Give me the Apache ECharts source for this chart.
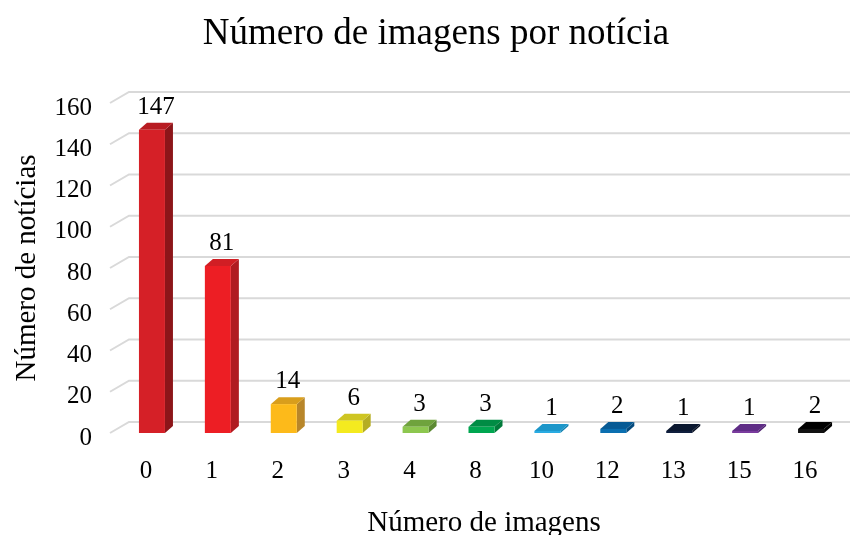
<!DOCTYPE html>
<html lang="pt">
<head>
    <meta charset="UTF-8">
    <title>Número de imagens por notícia</title>
    <script src="https://cdn.jsdelivr.net/npm/echarts@6/dist/echarts.min.js"></script>
    <style>
        html, body { margin: 0; padding: 0; background: #fff; }
        #main { width: 850px; height: 535px; }
    </style>
</head>
<body>
<div id="main"></div>
<script>
    // categorias (número de imagens) e contagens de notícias
    var categories = ['0', '1', '2', '3', '4', '8', '10', '12', '13', '15', '16'];
    var counts = [147, 81, 14, 6, 3, 3, 1, 2, 1, 1, 2];
    var yTicks = [0, 20, 40, 60, 80, 100, 120, 140, 160];

    // cores das faces: frente, lado, topo
    var frontColors = ['#D52027', '#ED1E24', '#FDBA1A', '#F4EA1F', '#8DC74F', '#00A650', '#29ABE2', '#0B6FB0', '#0F1E3D', '#7A3C9E', '#111111'];
    var sideColors  = ['#8C1519', '#B01B21', '#B8862A', '#B5AD23', '#5C8A32', '#007A3A', '#0E7FB0', '#054A7C', '#060E20', '#4E2070', '#000000'];
    var topColors   = ['#B81C22', '#D11E24', '#D99E1C', '#CEC522', '#6FA33D', '#008C44', '#1C96C9', '#075A94', '#0B1830', '#5F2D86', '#000000'];

    var FONT = '"Liberation Serif", "Times New Roman", serif';
    var DEPTH_X = 8, DEPTH_Y = 7, HALF_W = 13;
    var WALL_X = 19, WALL_Y = 11;

    var chart = echarts.init(document.getElementById('main'));

    var option = {
        animation: false,
        title: {
            text: 'Número de imagens por notícia',
            left: 431,
            top: 11,
            textAlign: 'center',
            textStyle: { fontFamily: FONT, fontSize: 37, fontWeight: 'normal', color: '#000' }
        },
        grid: { left: 113, right: 12, top: 103, bottom: 102, outerBoundsMode: 'none' },
        xAxis: {
            type: 'category',
            data: categories,
            name: 'Número de imagens',
            nameLocation: 'middle',
            nameGap: 76,
            nameTextStyle: { fontFamily: FONT, fontSize: 29, color: '#000', padding: [0, 0, 0, 17] },
            axisLine: { show: false },
            axisTick: { show: false },
            axisLabel: { fontFamily: FONT, fontSize: 25, color: '#000', margin: 26 }
        },
        yAxis: {
            type: 'value',
            min: 0,
            max: 160,
            interval: 20,
            name: 'Número de notícias',
            nameLocation: 'middle',
            nameGap: 71,
            nameTextStyle: { fontFamily: FONT, fontSize: 29, color: '#000' },
            axisLine: { show: false },
            axisTick: { show: false },
            splitLine: { show: false },
            axisLabel: {
                margin: 21,
                formatter: '{t|{value}}',
                rich: { t: { fontFamily: FONT, fontSize: 25, color: '#000', padding: [10, 0, 0, 0] } }
            }
        },
        series: [
            {
                // linhas de grade na parede do fundo
                type: 'custom',
                data: yTicks.map(function (v) { return [0, v]; }),
                clip: false,
                z: 1,
                silent: true,
                renderItem: function (params, api) {
                    var p = api.coord([0, api.value(1)]);
                    var rect = params.coordSys;
                    var x0 = rect.x - 3;
                    return {
                        type: 'polyline',
                        shape: {
                            points: [
                                [x0, p[1]],
                                [x0 + WALL_X, p[1] - WALL_Y],
                                [850, p[1] - WALL_Y]
                            ]
                        },
                        style: { stroke: '#D9D9D9', lineWidth: 2, fill: null }
                    };
                }
            },
            {
                // barras 3D
                type: 'custom',
                data: counts.map(function (v, i) { return [i, v]; }),
                clip: false,
                z: 2,
                renderItem: function (params, api) {
                    var i = api.value(0);
                    var v = api.value(1);
                    var top = api.coord([i, v]);
                    var base = api.coord([i, 0]);
                    var cx = top[0] + 6;
                    var l = cx - HALF_W, r = cx + HALF_W;
                    var yt = top[1], yb = base[1];
                    return {
                        type: 'group',
                        children: [
                            {
                                type: 'polygon',
                                shape: { points: [[r, yt], [r + DEPTH_X, yt - DEPTH_Y], [r + DEPTH_X, yb - DEPTH_Y], [r, yb]] },
                                style: { fill: sideColors[i] }
                            },
                            {
                                type: 'polygon',
                                shape: { points: [[l, yt], [l + DEPTH_X, yt - DEPTH_Y], [r + DEPTH_X, yt - DEPTH_Y], [r, yt]] },
                                style: { fill: topColors[i] }
                            },
                            {
                                type: 'rect',
                                shape: { x: l, y: yt, width: HALF_W * 2, height: yb - yt },
                                style: { fill: frontColors[i] }
                            },
                            {
                                type: 'text',
                                style: {
                                    text: String(v),
                                    x: cx + DEPTH_X / 2,
                                    y: yt - DEPTH_Y - 3,
                                    align: 'center',
                                    verticalAlign: 'bottom',
                                    font: '25px ' + FONT,
                                    fill: '#000'
                                }
                            }
                        ]
                    };
                }
            }
        ]
    };

    chart.setOption(option);
</script>
</body>
</html>
